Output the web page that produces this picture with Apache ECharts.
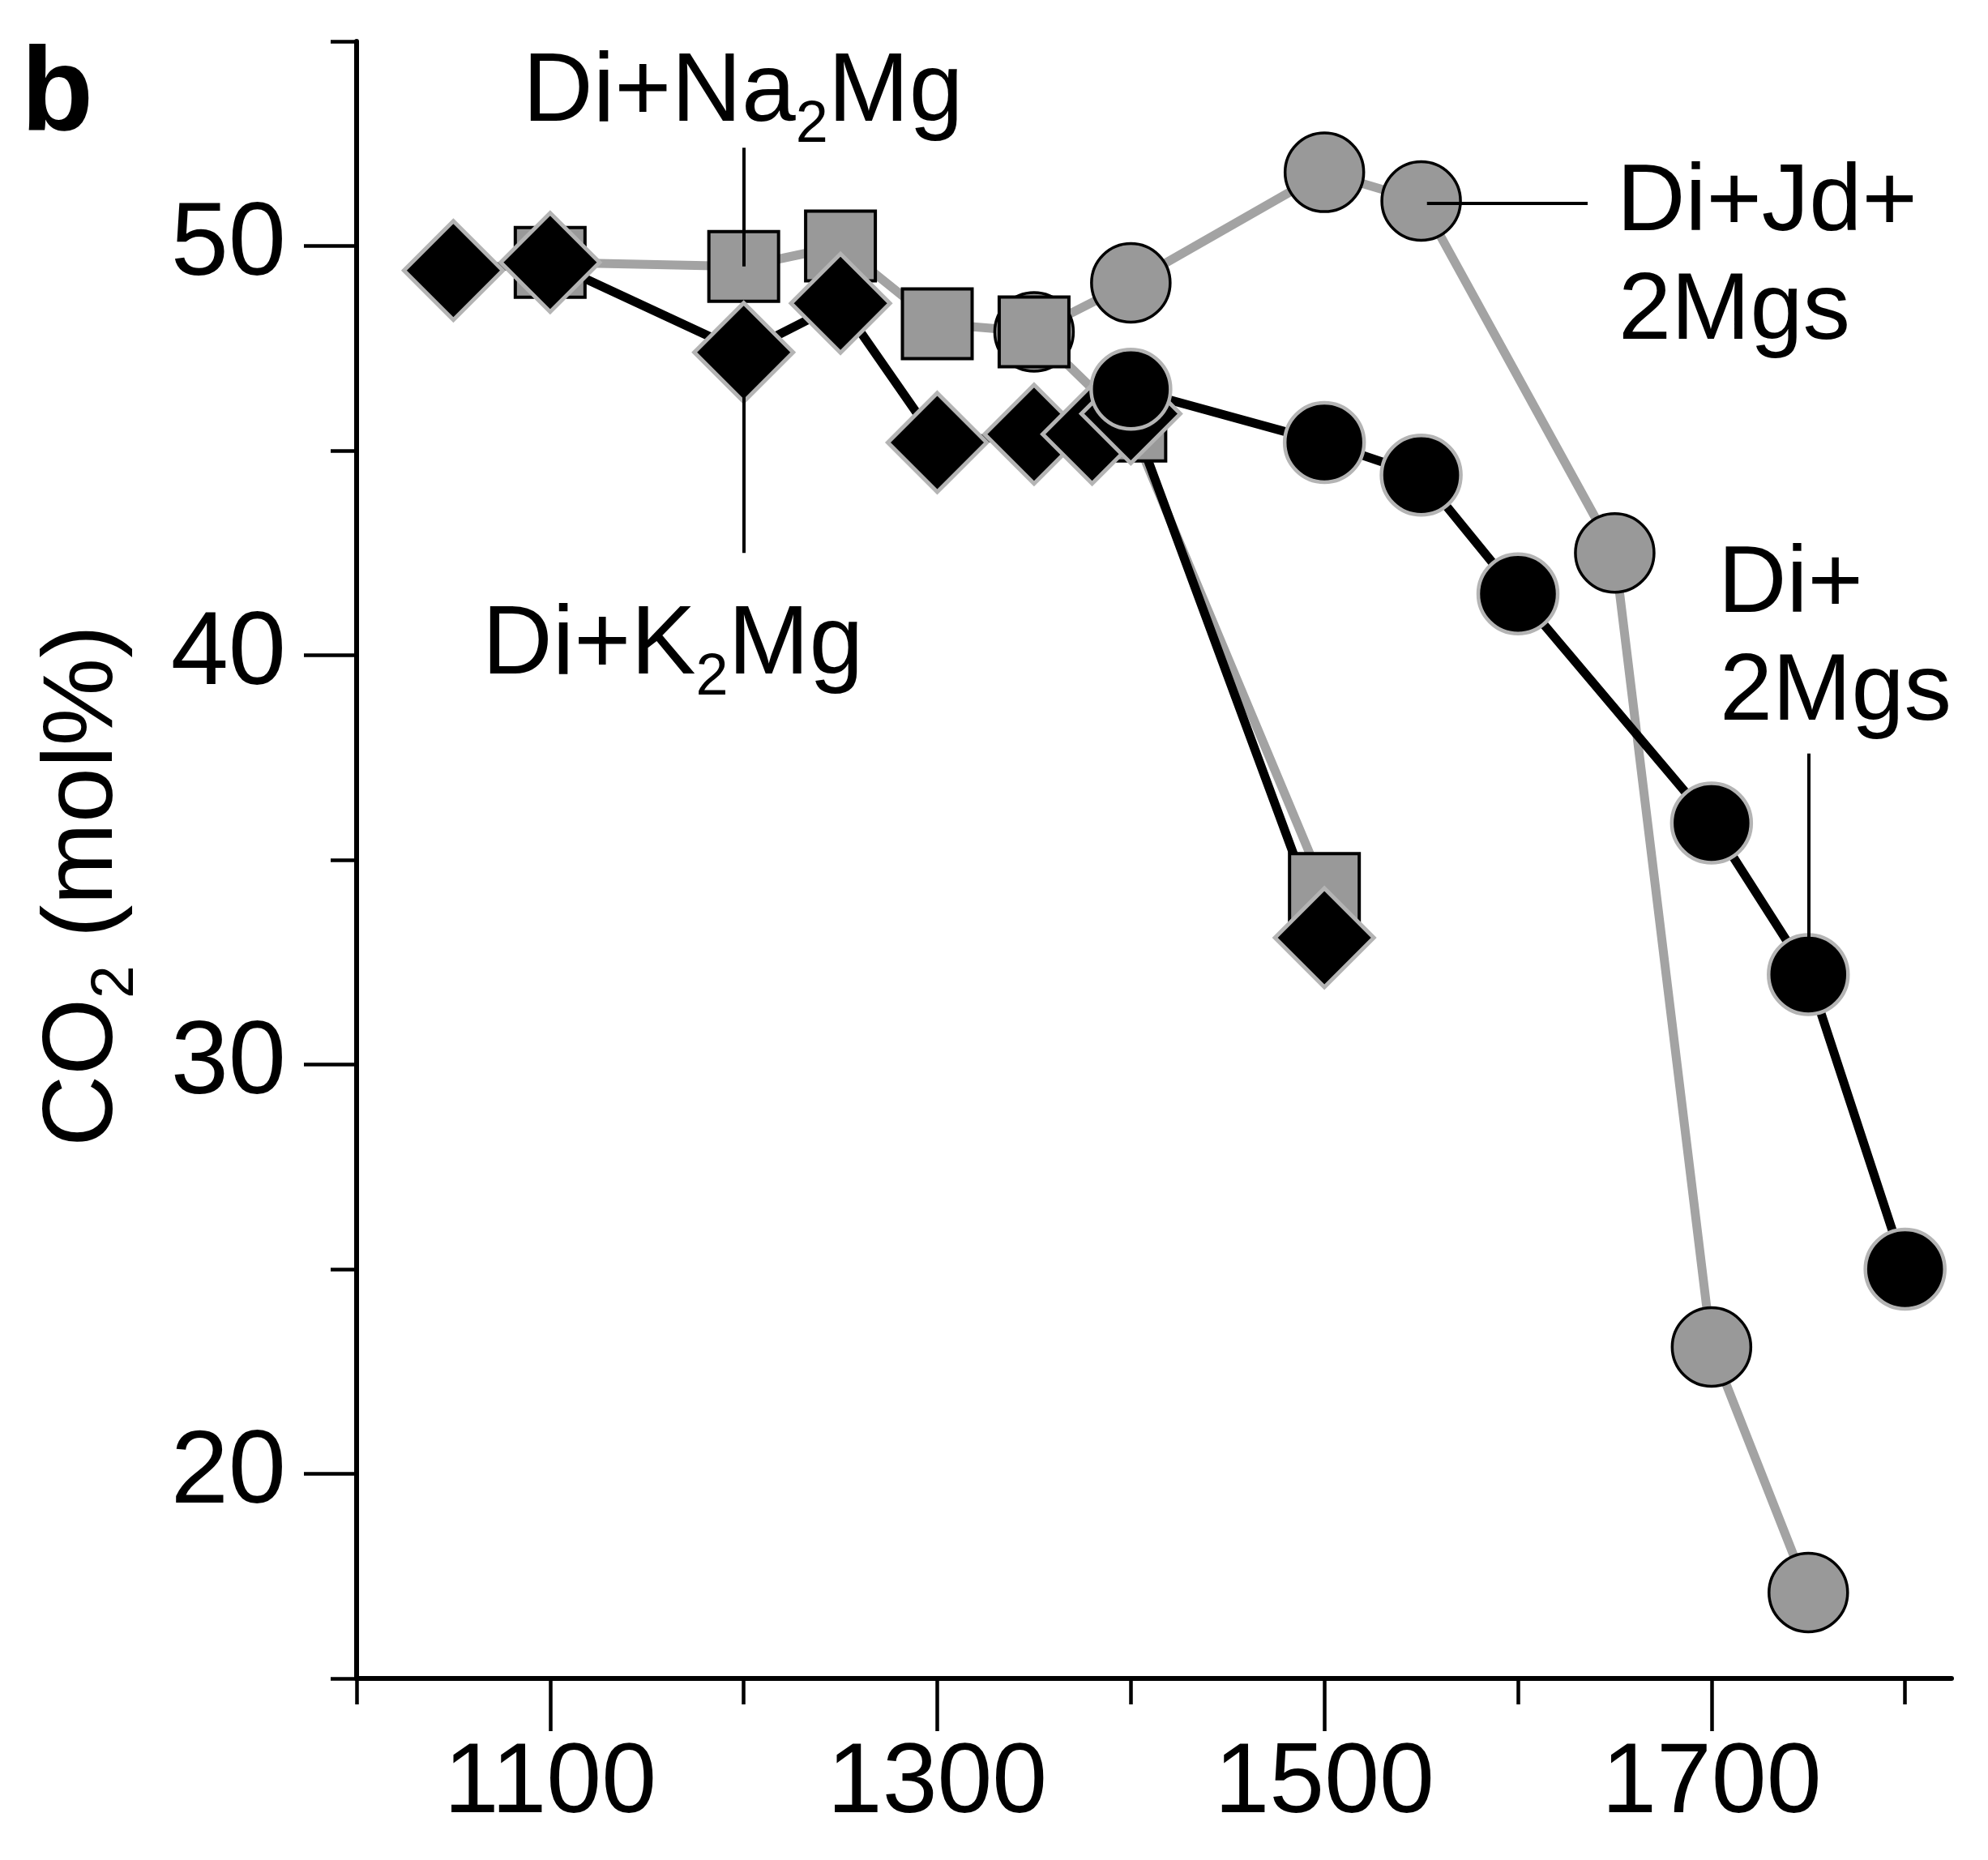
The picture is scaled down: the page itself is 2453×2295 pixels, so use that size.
<!DOCTYPE html>
<html>
<head>
<meta charset="utf-8">
<script src="https://cdn.jsdelivr.net/npm/echarts@6/dist/echarts.min.js"></script>
<style>
html, body { margin: 0; padding: 0; background: #fff; }
#chart { width: 2453px; height: 2295px; }
</style>
</head>
<body>
<div id="chart"></div>
<script>
// temperature (x) and CO2 mol% (y)
const naMgT = [1100, 1200, 1250, 1300, 1350, 1400, 1500]
const naMgCO2 = [49.6, 49.5, 50.0, 48.1, 47.9, 45.6, 34.3]

const kMgT = [1050, 1100, 1200, 1250, 1300, 1350, 1380, 1400, 1500]
const kMgCO2 = [49.4, 49.6, 47.4, 48.6, 45.2, 45.4, 45.4, 45.9, 33.1]

const jdMgsT = [1350, 1400, 1500, 1550, 1650, 1700, 1750]
const jdMgsCO2 = [47.9, 49.1, 51.8, 51.1, 42.5, 23.1, 17.1]

const mgsT = [1400, 1500, 1550, 1600, 1700, 1750, 1800]
const mgsCO2 = [46.5, 45.2, 44.4, 41.5, 35.9, 32.2, 25.0]

// ticks
const xMajor = [1100, 1300, 1500, 1700]
const xMinor = [1000, 1200, 1400, 1600, 1800]
const yMajor = [20, 30, 40, 50]
const yMinor = [15, 25, 35, 45, 55]

// leader lines of the labels, in data units
const leaders = [
  [[1200, 49.5], [1200, 52.4]],
  [[1200, 47.4], [1200, 42.5]],
  [[1553, 51.05], [1636, 51.05]],
  [[1750, 32.2], [1750, 37.6]]
]

const FONT = 'Liberation Sans'
const GRAY = '#999999'
const LIGHT = '#b4b4b4'

const zip = (xs, ys) => xs.map((x, i) => [x, ys[i]])

const chart = echarts.init(document.getElementById('chart'))

const baseX = {
  type: 'value', min: 1000, max: 1824, position: 'bottom', offset: 0,
  splitLine: { show: false },
  axisLine: { onZero: false, lineStyle: { color: '#000', width: 6 } }
}
const baseY = {
  type: 'value', min: 15, max: 55, position: 'left', offset: 0,
  splitLine: { show: false },
  axisLine: { onZero: false, lineStyle: { color: '#000', width: 6 } }
}
const labelStyle = { color: '#000', fontFamily: FONT, formatter: v => String(v) }

const sub = (size) => ({
  a: { fontSize: size, fontFamily: FONT, color: '#000', lineHeight: size * 1.25, verticalAlign: 'middle' },
  s: { fontSize: size * 0.6, fontFamily: FONT, color: '#000', lineHeight: size * 0.6, verticalAlign: 'bottom' }
})
const txt = (x, y, text, extra) => ({
  type: 'text', x: x, y: y, silent: true,
  style: Object.assign({
    text: text, fill: '#000', font: '117px "Liberation Sans"',
    align: 'left', verticalAlign: 'middle'
  }, extra || {})
})

const option = {
  animation: false,
  backgroundColor: '#fff',
  grid: { left: 440, right: 45, top: 51, bottom: 224, containLabel: false },
  xAxis: [
    Object.assign({}, baseX, {
      axisTick: { customValues: xMinor, length: 32, lineStyle: { color: '#000', width: 4.5 } },
      axisLabel: { show: false }
    }),
    Object.assign({}, baseX, {
      axisLine: { show: false },
      axisTick: { customValues: xMajor, length: 65, lineStyle: { color: '#000', width: 4.5 } },
      axisLabel: Object.assign({ customValues: xMajor, margin: 70, fontSize: 122 }, labelStyle)
    })
  ],
  yAxis: [
    Object.assign({}, baseY, {
      axisTick: { customValues: yMinor, length: 32, lineStyle: { color: '#000', width: 4.5 } },
      axisLabel: { show: false }
    }),
    Object.assign({}, baseY, {
      axisLine: { show: false },
      axisTick: { customValues: yMajor, length: 65, lineStyle: { color: '#000', width: 4.5 } },
      axisLabel: Object.assign({ customValues: yMajor, margin: 87, fontSize: 128 }, labelStyle)
    })
  ],
  series: [
    {
      name: 'Di+Jd+2Mgs', type: 'line', data: zip(jdMgsT, jdMgsCO2),
      symbol: 'circle', symbolSize: 97,
      lineStyle: { color: '#a3a3a3', width: 11 },
      itemStyle: { color: GRAY, borderColor: '#000', borderWidth: 3.5 }
    },
    {
      name: 'Di+Na2Mg', type: 'line', data: zip(naMgT, naMgCO2),
      symbol: 'rect', symbolSize: 86,
      lineStyle: { color: '#a3a3a3', width: 11 },
      itemStyle: { color: GRAY, borderColor: '#000', borderWidth: 4 }
    },
    {
      name: 'Di+K2Mg', type: 'line', data: zip(kMgT, kMgCO2),
      symbol: 'diamond', symbolSize: 122,
      lineStyle: { color: '#000', width: 11 },
      itemStyle: { color: '#000', borderColor: LIGHT, borderWidth: 5 }
    },
    {
      name: 'Di+2Mgs', type: 'line', data: zip(mgsT, mgsCO2),
      symbol: 'circle', symbolSize: 98,
      lineStyle: { color: '#000', width: 11 },
      itemStyle: { color: '#000', borderColor: LIGHT, borderWidth: 4.5 },
      markLine: {
        silent: true, symbol: 'none', animation: false,
        label: { show: false },
        lineStyle: { color: '#000', width: 4, type: 'solid' },
        data: leaders.map(l => [{ coord: l[0] }, { coord: l[1] }])
      }
    }
  ],
  graphic: [
    txt(26, 120, 'b', { font: 'bold 146px "Liberation Sans"' }),
    {
      type: 'text', x: 104, y: 1093, rotation: Math.PI / 2, silent: true,
      style: { text: '{a|CO}{s|2}{a| (mol%)}', rich: sub(122), align: 'center', verticalAlign: 'middle' }
    },
    {
      type: 'text', x: 645, y: 116, silent: true,
      style: { text: '{a|Di+Na}{s|2}{a|Mg}', rich: sub(120), align: 'left', verticalAlign: 'middle' }
    },
    {
      type: 'text', x: 595, y: 798, silent: true,
      style: { text: '{a|Di+K}{s|2}{a|Mg}', rich: sub(120), align: 'left', verticalAlign: 'middle' }
    },
    txt(1995, 252, 'Di+Jd+'),
    txt(1997, 386, '2Mgs'),
    txt(2120, 723, 'Di+'),
    txt(2122, 856, '2Mgs')
  ]
}

chart.setOption(option)
</script>
</body>
</html>
